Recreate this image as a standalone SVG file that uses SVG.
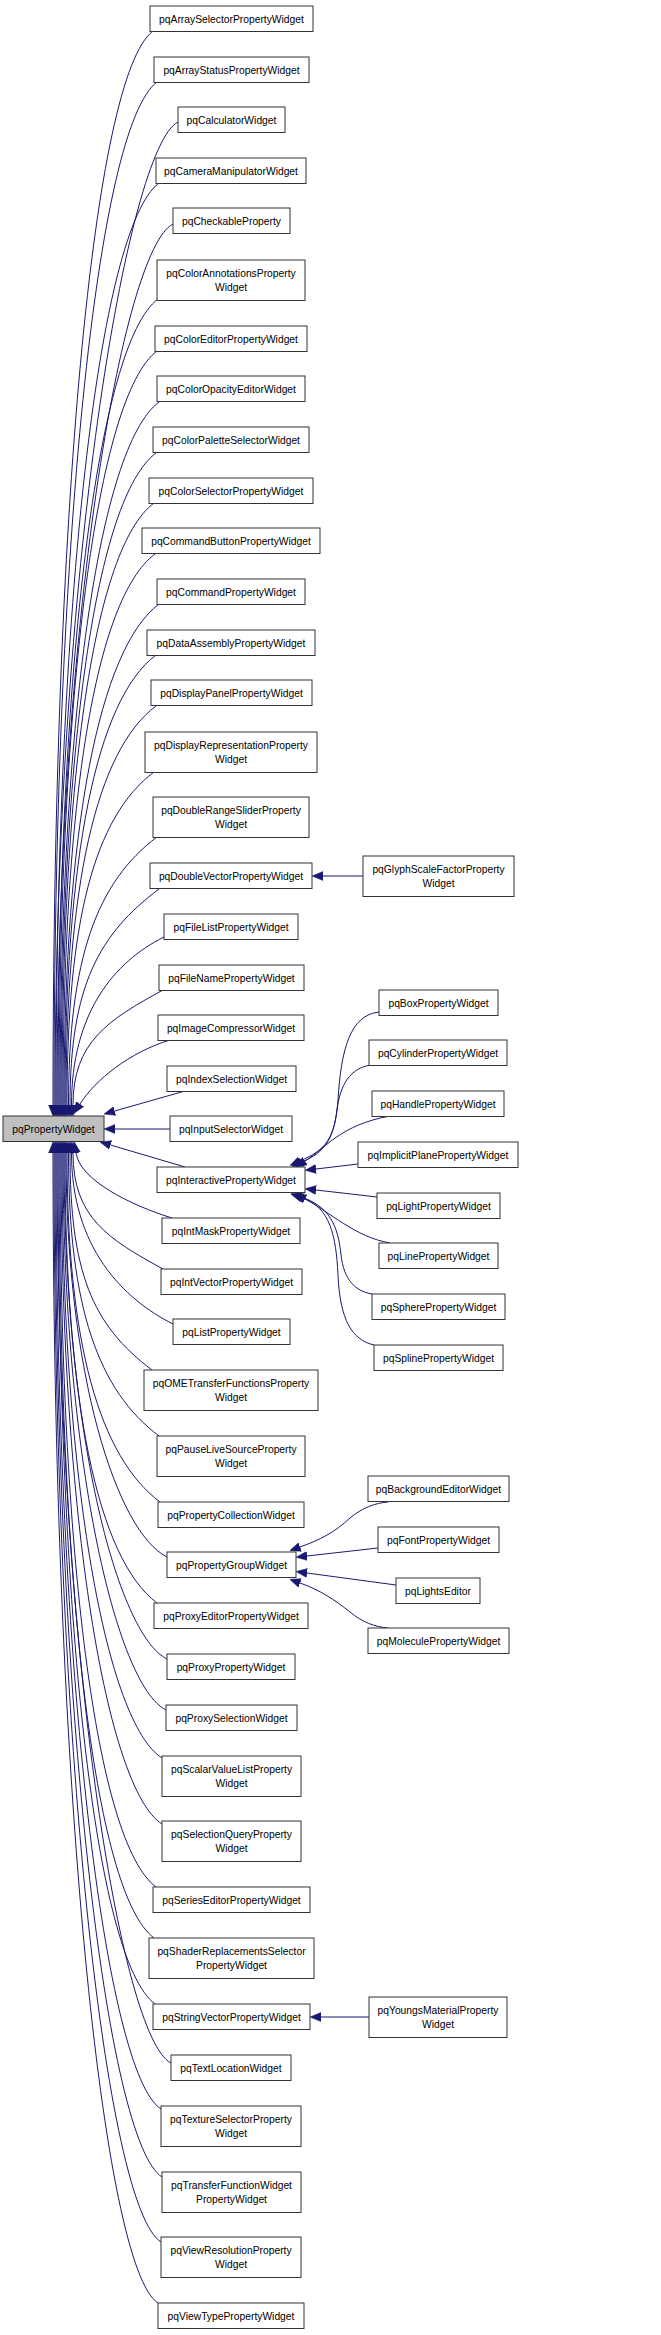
<svg xmlns="http://www.w3.org/2000/svg" width="661" height="2335" viewBox="0 0 661 2335">
<style>
.n rect{fill:#ffffff;stroke:#333333;stroke-width:1}
.n text{font-family:"Liberation Sans",Arial,sans-serif;font-size:10.3px;text-anchor:middle;fill:#000000}
#n_pqPropertyWidget rect{fill:#bfbfbf}
.e path{fill:none;stroke:#191970;stroke-width:1;marker-start:url(#ah)}
</style>
<defs>
<marker id="ah" viewBox="0 0 11 10" markerWidth="11" markerHeight="10" refX="0" refY="5" orient="auto-start-reverse" markerUnits="userSpaceOnUse">
<path d="M0,0.5 L11,5 L0,9.5 z" fill="#191970" stroke="#191970" stroke-width="0.5"/>
</marker>
</defs>
<rect x="0" y="0" width="661" height="2335" fill="#ffffff"/>
<g id="edges" class="e">
<path d="M53,1105 C53,514 93,76 153,31"/>
<path d="M54,1105 C54,542 97,127 157,82"/>
<path d="M55,1105 C55,564 128,147 178,122"/>
<path d="M56,1105 C56,598 99,228 159,183"/>
<path d="M57,1105 C57,620 123,249 173,224"/>
<path d="M58,1105 C58,662 98,344 158,299"/>
<path d="M59,1105 C59,690 97,396 157,351"/>
<path d="M60,1105 C60,718 99,447 159,402"/>
<path d="M61,1105 C61,746 96,498 156,453"/>
<path d="M62,1105 C62,774 94,548 154,503"/>
<path d="M63,1105 C63,802 95,599 155,554"/>
<path d="M64,1105 C64,829 99,649 159,604"/>
<path d="M65,1105 C65,857 96,700 156,655"/>
<path d="M66,1105 C66,885 96,751 156,706"/>
<path d="M67,1105 C67,922 94,817 154,772"/>
<path d="M68.5,1105 C68.5,958 97,882 157,837"/>
<path d="M70,1105 C70,986 99,934 159,889"/>
<path d="M71.5,1105 C71.5,1013 114,962 164,937"/>
<path d="M73,1105 C73,1042 108,1020 163,990"/>
<path d="M80,1104 C95,1080 130,1052 170,1040"/>
<path d="M114.6,1111 L185,1091"/>
<path d="M115,1129 L170,1129"/>
<path d="M110.5,1145 L185,1167"/>
<path d="M76,1153 C80,1180 130,1205 172,1218"/>
<path d="M73,1153 C73,1217 108,1239 163,1269"/>
<path d="M71.5,1153 C71.5,1247 123,1299 173,1324"/>
<path d="M70,1153 C70,1272 92,1325 152,1370"/>
<path d="M68.5,1153 C68.5,1309 99,1391 159,1436"/>
<path d="M67,1153 C67,1345 100,1457 160,1502"/>
<path d="M66,1153 C66,1375 117,1532 167,1557"/>
<path d="M65,1153 C65,1400 97,1558 157,1603"/>
<path d="M64,1153 C64,1431 117,1634 167,1659"/>
<path d="M63,1153 C63,1459 116,1685 166,1710"/>
<path d="M62,1153 C62,1486 107,1723 162,1758"/>
<path d="M61,1153 C61,1522 107,1789 162,1824"/>
<path d="M60,1153 C60,1557 96,1842 156,1887"/>
<path d="M59,1153 C59,1585 94,1893 154,1938"/>
<path d="M58,1153 C58,1621 95,1959 155,2004"/>
<path d="M57,1153 C57,1653 121,2038 171,2063"/>
<path d="M56,1153 C56,1679 106,2074 161,2109"/>
<path d="M55,1153 C55,1716 107,2142 162,2177"/>
<path d="M54,1153 C54,1752 106,2207 161,2242"/>
<path d="M53,1153 C53,1786 103,2268 158,2303"/>
<path d="M323,876 L363,876"/>
<path d="M300,1161 C325,1150 335,1140 338,1100 C341,1050 350,1015 379,1012"/>
<path d="M302,1162 C325,1152 333,1140 337,1110 C340,1085 350,1068 371,1065"/>
<path d="M305,1161 C326,1148 340,1125 390,1116"/>
<path d="M316,1169 L358,1164"/>
<path d="M316,1190 L377,1197"/>
<path d="M305,1199 C330,1212 355,1237 390,1243"/>
<path d="M301,1197 C329,1206 338,1225 341,1255 C344,1280 355,1291 372,1294"/>
<path d="M303,1198 C330,1208 336,1235 338,1275 C340,1320 352,1340 374,1345"/>
<path d="M300,1547 C320,1540 335,1532 350,1518 C362,1508 375,1503 388,1502"/>
<path d="M307,1556 L378,1548"/>
<path d="M307,1573 L396,1585"/>
<path d="M300,1583 C320,1590 335,1600 350,1612 C362,1622 375,1627 388,1628"/>
<path d="M321,2017 L369,2017"/>
</g>
<g id="n_pqPropertyWidget" class="n"><rect x="3" y="1116" width="101" height="25.5"/><text x="53.5" y="1133">pqPropertyWidget</text></g>
<g id="n_pqArraySelectorPropertyWidget" class="n"><rect x="150" y="6" width="163" height="25.5"/><text x="231.5" y="23">pqArraySelectorPropertyWidget</text></g>
<g id="n_pqArrayStatusPropertyWidget" class="n"><rect x="154" y="57" width="155" height="25.5"/><text x="231.5" y="74">pqArrayStatusPropertyWidget</text></g>
<g id="n_pqCalculatorWidget" class="n"><rect x="178" y="107" width="107" height="25.5"/><text x="231.5" y="124">pqCalculatorWidget</text></g>
<g id="n_pqCameraManipulatorWidget" class="n"><rect x="156" y="158" width="150" height="25.5"/><text x="231" y="175">pqCameraManipulatorWidget</text></g>
<g id="n_pqCheckableProperty" class="n"><rect x="173" y="208" width="117" height="25.5"/><text x="231.5" y="225">pqCheckableProperty</text></g>
<g id="n_pqColorAnnotationsPropertyWidget" class="n"><rect x="157" y="260" width="148" height="40.5"/><text x="231" y="276.5">pqColorAnnotationsProperty<tspan x="231" y="290.5">Widget</tspan></text></g>
<g id="n_pqColorEditorPropertyWidget" class="n"><rect x="155" y="326" width="152" height="25.5"/><text x="231" y="343">pqColorEditorPropertyWidget</text></g>
<g id="n_pqColorOpacityEditorWidget" class="n"><rect x="157" y="376" width="148" height="25.5"/><text x="231" y="393">pqColorOpacityEditorWidget</text></g>
<g id="n_pqColorPaletteSelectorWidget" class="n"><rect x="153" y="427" width="156" height="25.5"/><text x="231" y="444">pqColorPaletteSelectorWidget</text></g>
<g id="n_pqColorSelectorPropertyWidget" class="n"><rect x="149" y="478" width="164" height="25.5"/><text x="231" y="495">pqColorSelectorPropertyWidget</text></g>
<g id="n_pqCommandButtonPropertyWidget" class="n"><rect x="142" y="528" width="178" height="25.5"/><text x="231" y="545">pqCommandButtonPropertyWidget</text></g>
<g id="n_pqCommandPropertyWidget" class="n"><rect x="157" y="579" width="148" height="25.5"/><text x="231" y="596">pqCommandPropertyWidget</text></g>
<g id="n_pqDataAssemblyPropertyWidget" class="n"><rect x="147" y="630" width="168" height="25.5"/><text x="231" y="647">pqDataAssemblyPropertyWidget</text></g>
<g id="n_pqDisplayPanelPropertyWidget" class="n"><rect x="151" y="680" width="161" height="25.5"/><text x="231.5" y="697">pqDisplayPanelPropertyWidget</text></g>
<g id="n_pqDisplayRepresentationPropertyWidget" class="n"><rect x="145" y="732" width="172" height="40.5"/><text x="231" y="748.5">pqDisplayRepresentationProperty<tspan x="231" y="762.5">Widget</tspan></text></g>
<g id="n_pqDoubleRangeSliderPropertyWidget" class="n"><rect x="153" y="797" width="156" height="40.5"/><text x="231" y="813.5">pqDoubleRangeSliderProperty<tspan x="231" y="827.5">Widget</tspan></text></g>
<g id="n_pqDoubleVectorPropertyWidget" class="n"><rect x="150" y="863" width="162" height="25.5"/><text x="231" y="880">pqDoubleVectorPropertyWidget</text></g>
<g id="n_pqFileListPropertyWidget" class="n"><rect x="164" y="914" width="134" height="25.5"/><text x="231" y="931">pqFileListPropertyWidget</text></g>
<g id="n_pqFileNamePropertyWidget" class="n"><rect x="159" y="965" width="145" height="25.5"/><text x="231.5" y="982">pqFileNamePropertyWidget</text></g>
<g id="n_pqImageCompressorWidget" class="n"><rect x="158" y="1015" width="146" height="25.5"/><text x="231" y="1032">pqImageCompressorWidget</text></g>
<g id="n_pqIndexSelectionWidget" class="n"><rect x="167" y="1066" width="129" height="25.5"/><text x="231.5" y="1083">pqIndexSelectionWidget</text></g>
<g id="n_pqInputSelectorWidget" class="n"><rect x="170" y="1116" width="122" height="25.5"/><text x="231" y="1133">pqInputSelectorWidget</text></g>
<g id="n_pqInteractivePropertyWidget" class="n"><rect x="157" y="1167" width="148" height="25.5"/><text x="231" y="1184">pqInteractivePropertyWidget</text></g>
<g id="n_pqIntMaskPropertyWidget" class="n"><rect x="162" y="1218" width="138" height="25.5"/><text x="231" y="1235">pqIntMaskPropertyWidget</text></g>
<g id="n_pqIntVectorPropertyWidget" class="n"><rect x="161" y="1269" width="141" height="25.5"/><text x="231.5" y="1286">pqIntVectorPropertyWidget</text></g>
<g id="n_pqListPropertyWidget" class="n"><rect x="173" y="1319" width="117" height="25.5"/><text x="231.5" y="1336">pqListPropertyWidget</text></g>
<g id="n_pqOMETransferFunctionsPropertyWidget" class="n"><rect x="144" y="1370" width="174" height="40.5"/><text x="231" y="1386.5">pqOMETransferFunctionsProperty<tspan x="231" y="1400.5">Widget</tspan></text></g>
<g id="n_pqPauseLiveSourcePropertyWidget" class="n"><rect x="157" y="1436" width="148" height="40.5"/><text x="231" y="1452.5">pqPauseLiveSourceProperty<tspan x="231" y="1466.5">Widget</tspan></text></g>
<g id="n_pqPropertyCollectionWidget" class="n"><rect x="158" y="1502" width="146" height="25.5"/><text x="231" y="1519">pqPropertyCollectionWidget</text></g>
<g id="n_pqPropertyGroupWidget" class="n"><rect x="167" y="1552" width="129" height="25.5"/><text x="231.5" y="1569">pqPropertyGroupWidget</text></g>
<g id="n_pqProxyEditorPropertyWidget" class="n"><rect x="154" y="1603" width="154" height="25.5"/><text x="231" y="1620">pqProxyEditorPropertyWidget</text></g>
<g id="n_pqProxyPropertyWidget" class="n"><rect x="167" y="1654" width="128" height="25.5"/><text x="231" y="1671">pqProxyPropertyWidget</text></g>
<g id="n_pqProxySelectionWidget" class="n"><rect x="166" y="1705" width="131" height="25.5"/><text x="231.5" y="1722">pqProxySelectionWidget</text></g>
<g id="n_pqScalarValueListPropertyWidget" class="n"><rect x="162" y="1756" width="139" height="40.5"/><text x="231.5" y="1772.5">pqScalarValueListProperty<tspan x="231.5" y="1786.5">Widget</tspan></text></g>
<g id="n_pqSelectionQueryPropertyWidget" class="n"><rect x="162" y="1821" width="139" height="40.5"/><text x="231.5" y="1837.5">pqSelectionQueryProperty<tspan x="231.5" y="1851.5">Widget</tspan></text></g>
<g id="n_pqSeriesEditorPropertyWidget" class="n"><rect x="153" y="1887" width="157" height="25.5"/><text x="231.5" y="1904">pqSeriesEditorPropertyWidget</text></g>
<g id="n_pqShaderReplacementsSelectorPropertyWidget" class="n"><rect x="149" y="1938" width="165" height="40.5"/><text x="231.5" y="1954.5">pqShaderReplacementsSelector<tspan x="231.5" y="1968.5">PropertyWidget</tspan></text></g>
<g id="n_pqStringVectorPropertyWidget" class="n"><rect x="153" y="2004" width="157" height="25.5"/><text x="231.5" y="2021">pqStringVectorPropertyWidget</text></g>
<g id="n_pqTextLocationWidget" class="n"><rect x="171" y="2055" width="120" height="25.5"/><text x="231" y="2072">pqTextLocationWidget</text></g>
<g id="n_pqTextureSelectorPropertyWidget" class="n"><rect x="161" y="2106" width="140" height="40.5"/><text x="231" y="2122.5">pqTextureSelectorProperty<tspan x="231" y="2136.5">Widget</tspan></text></g>
<g id="n_pqTransferFunctionWidgetPropertyWidget" class="n"><rect x="162" y="2172" width="139" height="40.5"/><text x="231.5" y="2188.5">pqTransferFunctionWidget<tspan x="231.5" y="2202.5">PropertyWidget</tspan></text></g>
<g id="n_pqViewResolutionPropertyWidget" class="n"><rect x="161" y="2237" width="140" height="40.5"/><text x="231" y="2253.5">pqViewResolutionProperty<tspan x="231" y="2267.5">Widget</tspan></text></g>
<g id="n_pqViewTypePropertyWidget" class="n"><rect x="158" y="2303" width="146" height="25.5"/><text x="231" y="2320">pqViewTypePropertyWidget</text></g>
<g id="n_pqGlyphScaleFactorPropertyWidget" class="n"><rect x="363" y="856" width="151" height="40.5"/><text x="438.5" y="872.5">pqGlyphScaleFactorProperty<tspan x="438.5" y="886.5">Widget</tspan></text></g>
<g id="n_pqBoxPropertyWidget" class="n"><rect x="379" y="990" width="119" height="25.5"/><text x="438.5" y="1007">pqBoxPropertyWidget</text></g>
<g id="n_pqCylinderPropertyWidget" class="n"><rect x="369" y="1040" width="138" height="25.5"/><text x="438" y="1057">pqCylinderPropertyWidget</text></g>
<g id="n_pqHandlePropertyWidget" class="n"><rect x="372" y="1091" width="132" height="25.5"/><text x="438" y="1108">pqHandlePropertyWidget</text></g>
<g id="n_pqImplicitPlanePropertyWidget" class="n"><rect x="358" y="1142" width="160" height="25.5"/><text x="438" y="1159">pqImplicitPlanePropertyWidget</text></g>
<g id="n_pqLightPropertyWidget" class="n"><rect x="377" y="1193" width="123" height="25.5"/><text x="438.5" y="1210">pqLightPropertyWidget</text></g>
<g id="n_pqLinePropertyWidget" class="n"><rect x="379" y="1243" width="119" height="25.5"/><text x="438.5" y="1260">pqLinePropertyWidget</text></g>
<g id="n_pqSpherePropertyWidget" class="n"><rect x="372" y="1294" width="133" height="25.5"/><text x="438.5" y="1311">pqSpherePropertyWidget</text></g>
<g id="n_pqSplinePropertyWidget" class="n"><rect x="374" y="1345" width="129" height="25.5"/><text x="438.5" y="1362">pqSplinePropertyWidget</text></g>
<g id="n_pqBackgroundEditorWidget" class="n"><rect x="368" y="1476" width="141" height="25.5"/><text x="438.5" y="1493">pqBackgroundEditorWidget</text></g>
<g id="n_pqFontPropertyWidget" class="n"><rect x="378" y="1527" width="121" height="25.5"/><text x="438.5" y="1544">pqFontPropertyWidget</text></g>
<g id="n_pqLightsEditor" class="n"><rect x="396" y="1578" width="84" height="25.5"/><text x="438" y="1595">pqLightsEditor</text></g>
<g id="n_pqMoleculePropertyWidget" class="n"><rect x="368" y="1628" width="141" height="25.5"/><text x="438.5" y="1645">pqMoleculePropertyWidget</text></g>
<g id="n_pqYoungsMaterialPropertyWidget" class="n"><rect x="369" y="1997" width="138" height="40.5"/><text x="438" y="2013.5">pqYoungsMaterialProperty<tspan x="438" y="2027.5">Widget</tspan></text></g>
</svg>
